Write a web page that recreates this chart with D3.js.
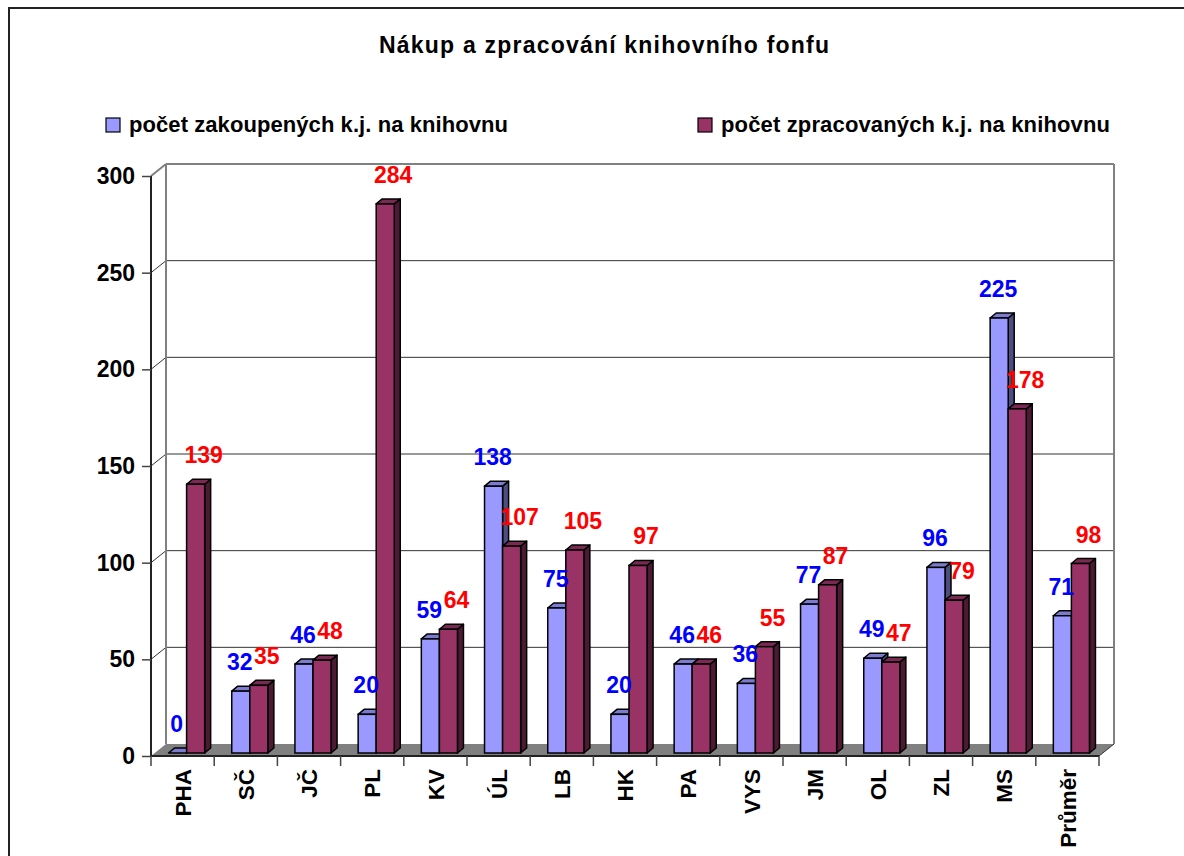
<!DOCTYPE html>
<html>
<head>
<meta charset="utf-8">
<script src="https://cdn.jsdelivr.net/npm/d3@7"></script>
<style>
  body { margin: 0; background: #fff; }
  svg { display: block; font-family: "Liberation Sans", Arial, sans-serif; font-weight: bold; }
</style>
</head>
<body>
<div id="chart"></div>
<script>
// kraje + prumer
var categories = ['PHA', 'SČ', 'JČ', 'PL', 'KV', 'ÚL', 'LB', 'HK', 'PA', 'VYS', 'JM', 'OL', 'ZL', 'MS', 'Průměr'];
var zakoupene = [0, 32, 46, 20, 59, 138, 75, 20, 46, 36, 77, 49, 96, 225, 71];
var zpracovane = [139, 35, 48, 284, 64, 107, 105, 97, 46, 55, 87, 47, 79, 178, 98];
var seriesNames = ['počet zakoupených k.j. na knihovnu', 'počet zpracovaných k.j. na knihovnu'];
var yTicks = [0, 50, 100, 150, 200, 250, 300];

var width = 1184, height = 856;

// barvy
var colors = [
  { front: '#9999FF', top: '#7b7bd0', side: '#4d4d80', label: '#0000FF' },
  { front: '#993366', top: '#7a2952', side: '#4d1a33', label: '#FF0000' }
];

// hloubka 3D (zadni stena vs predni rovina)
var DX = 15, DY = -12;
// posun sloupcu do hloubky a jejich hloubka
var BX = 4, BY = -3, TX = 6, TY = -5;

var svg = d3.select('#chart').append('svg')
  .attr('width', width)
  .attr('height', height);

// ramecek grafu
svg.append('rect')
  .attr('x', 9).attr('y', 8)
  .attr('width', 1300).attr('height', 1000)
  .attr('fill', 'none')
  .attr('stroke', '#222')
  .attr('stroke-width', 2);

var x = d3.scaleBand().domain(categories).range([151, 1099]);
var y = d3.scaleLinear().domain([0, 300]).range([756, 176]);
var sub = d3.scaleBand().domain([0, 1]).range([0, x.bandwidth()]).paddingOuter(0.75);

var x0 = x.range()[0], x1 = x.range()[1];

// titulek
svg.append('text')
  .attr('x', 604).attr('y', 53)
  .attr('text-anchor', 'middle')
  .attr('textLength', 450)
  .attr('lengthAdjust', 'spacing')
  .style('font-size', '23px')
  .text('Nákup a zpracování knihovního fonfu');

// legenda
var legendPos = [{ sx: 106, tx: 129, len: 379 }, { sx: 698, tx: 721, len: 389 }];
seriesNames.forEach(function(name, i) {
  svg.append('rect')
    .attr('x', legendPos[i].sx).attr('y', 118)
    .attr('width', 14).attr('height', 14)
    .attr('fill', colors[i].front)
    .attr('stroke', '#000')
    .attr('stroke-width', 1.2);
  svg.append('text')
    .attr('x', legendPos[i].tx).attr('y', 132)
    .attr('textLength', legendPos[i].len)
    .attr('lengthAdjust', 'spacing')
    .style('font-size', '22px')
    .text(name);
});

// podlaha
var floor = [[x0, y(0)], [x1, y(0)], [x1 + DX, y(0) + DY], [x0 + DX, y(0) + DY]];
svg.append('polygon')
  .attr('points', floor.map(function(p) { return p.join(','); }).join(' '))
  .attr('fill', '#808080');

// mrizka na zadni stene + bocni stene
var grid = svg.append('g');
yTicks.filter(function(t) { return t > 0; }).forEach(function(t) {
  grid.append('line')
    .attr('x1', x0 + DX).attr('x2', x1 + DX)
    .attr('y1', y(t) + DY).attr('y2', y(t) + DY)
    .attr('stroke', t === 300 ? '#808080' : '#333')
    .attr('stroke-width', t === 300 ? 2 : 1);
  grid.append('line')
    .attr('x1', x0).attr('x2', x0 + DX)
    .attr('y1', y(t)).attr('y2', y(t) + DY)
    .attr('stroke', t === 300 ? '#808080' : '#333')
    .attr('stroke-width', t === 300 ? 2 : 1);
});
// hrany zadni steny
grid.append('line')
  .attr('x1', x0 + DX).attr('x2', x0 + DX)
  .attr('y1', y(300) + DY).attr('y2', y(0) + DY)
  .attr('stroke', '#808080').attr('stroke-width', 2);
grid.append('line')
  .attr('x1', x1 + DX).attr('x2', x1 + DX)
  .attr('y1', y(300) + DY).attr('y2', y(0) + DY)
  .attr('stroke', '#808080').attr('stroke-width', 2);
grid.append('line')
  .attr('x1', x1).attr('x2', x1 + DX)
  .attr('y1', y(0)).attr('y2', y(0) + DY)
  .attr('stroke', '#333').attr('stroke-width', 1);

// osa Y
var yAxis = d3.axisLeft(y).tickValues(yTicks).tickSize(9).tickPadding(7);
var gy = svg.append('g')
  .attr('transform', 'translate(' + x0 + ',0)')
  .call(yAxis);
gy.select('.domain').attr('stroke', '#222').attr('stroke-width', 2).attr('d', 'M0,' + y(300) + 'V' + y(0));
gy.selectAll('.tick line').attr('stroke', '#444').attr('stroke-width', 1.5);
gy.selectAll('.tick text')
  .attr('fill', '#000')
  .style('font-size', '23px')
  .style('font-family', '"Liberation Sans", Arial, sans-serif')
  .style('font-weight', 'bold');

// osa X
var gx = svg.append('g');
gx.append('line')
  .attr('x1', x0).attr('x2', x1)
  .attr('y1', y(0)).attr('y2', y(0))
  .attr('stroke', '#222').attr('stroke-width', 2);
var bounds = categories.map(function(c) { return x(c); }).concat([x1]);
gx.selectAll('.xtick').data(bounds).enter().append('line')
  .attr('x1', function(d) { return d; }).attr('x2', function(d) { return d; })
  .attr('y1', y(0)).attr('y2', y(0) + 10)
  .attr('stroke', '#444').attr('stroke-width', 1.5);
gx.selectAll('.xlabel').data(categories).enter().append('text')
  .attr('transform', function(d) {
    return 'translate(' + (x(d) + x.bandwidth() / 2) + ',' + 769 + ') rotate(-90)';
  })
  .attr('text-anchor', 'end')
  .attr('dy', '0.36em')
  .style('font-size', '22.5px')
  .text(function(d) { return d; });

// sloupce
var bars = [];
categories.forEach(function(c, ci) {
  [zakoupene[ci], zpracovane[ci]].forEach(function(v, si) {
    bars.push({ cat: c, s: si, v: v });
  });
});

function pts(arr) { return arr.map(function(p) { return p.join(','); }).join(' '); }

var bw = sub.bandwidth();
var gb = svg.append('g');
bars.forEach(function(d) {
  var bx = x(d.cat) + sub(d.s) + BX;
  var by0 = y(0) + BY;
  var by1 = y(d.v) + BY;
  var g = gb.append('g');
  // bok
  g.append('polygon')
    .attr('points', pts([[bx + bw, by1], [bx + bw + TX, by1 + TY], [bx + bw + TX, by0 + TY], [bx + bw, by0]]))
    .attr('fill', colors[d.s].side)
    .attr('stroke', '#000').attr('stroke-width', 1.5).attr('stroke-linejoin', 'round');
  // vrch
  g.append('polygon')
    .attr('points', pts([[bx, by1], [bx + TX, by1 + TY], [bx + bw + TX, by1 + TY], [bx + bw, by1]]))
    .attr('fill', colors[d.s].top)
    .attr('stroke', '#000').attr('stroke-width', 1.5).attr('stroke-linejoin', 'round');
  // celo
  g.append('rect')
    .attr('x', bx).attr('y', by1)
    .attr('width', bw).attr('height', Math.max(0, by0 - by1))
    .attr('fill', colors[d.s].front)
    .attr('stroke', '#000').attr('stroke-width', 1.5);
});

// popisky hodnot
gb.selectAll('.val').data(bars).enter().append('text')
  .attr('x', function(d) { return x(d.cat) + sub(d.s) + BX + bw / 2 + (d.s === 0 ? -1 : 8); })
  .attr('y', function(d) { return y(d.v) + BY - 21; })
  .attr('text-anchor', 'middle')
  .attr('fill', function(d) { return colors[d.s].label; })
  .style('font-size', '23px')
  .text(function(d) { return d.v; });
</script>
</body>
</html>
